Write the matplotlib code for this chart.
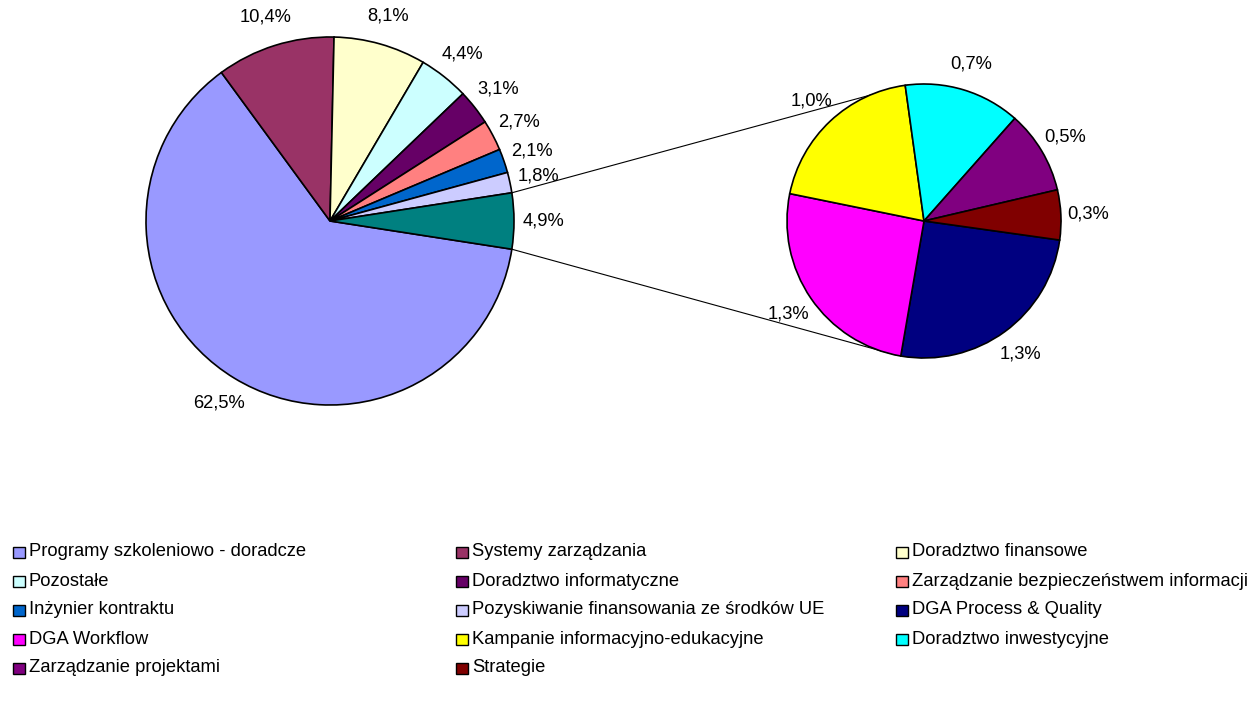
"""plot.py — pie-of-pie chart of service categories (PL labels)."""
import numpy as np
import matplotlib
matplotlib.use("Agg")
import matplotlib.pyplot as plt
from matplotlib.patches import Rectangle

plt.rcParams["font.family"] = ["Liberation Sans", "DejaVu Sans"]

# ---- data ----
main_labels = ["Programy szkoleniowo - doradcze", "Systemy zarządzania",
               "Doradztwo finansowe", "Pozostałe", "Doradztwo informatyczne",
               "Zarządzanie bezpieczeństwem informacji", "Inżynier kontraktu",
               "Pozyskiwanie finansowania ze środków UE"]
main_values = [62.5, 10.4, 8.1, 4.4, 3.1, 2.7, 2.1, 1.8]
main_colors = ["#9999FF", "#993366", "#FFFFCC", "#CCFFFF", "#660066",
               "#FF8080", "#0066CC", "#CCCCFF"]

other_value = 4.9
other_color = "#008080"

sub_labels = ["DGA Process & Quality", "DGA Workflow",
              "Kampanie informacyjno-edukacyjne", "Doradztwo inwestycyjne",
              "Zarządzanie projektami", "Strategie"]
sub_values = [1.3, 1.3, 1.0, 0.7, 0.5, 0.3]
sub_colors = ["#000080", "#FF00FF", "#FFFF00", "#00FFFF", "#800080", "#800000"]

W, H = 1248, 702
FS = 13.2
fig = plt.figure(figsize=(W / 100, H / 100), dpi=100)
ax = fig.add_axes([0, 0, 1, 1])

c1, r1 = (330, 481), 184
c2, r2 = (924, 481), 137
wprops = dict(edgecolor="black", linewidth=1.2)

vals1 = main_values + [other_value]
cols1 = main_colors + [other_color]
start1 = -other_value / 2 * 3.6
w1, _ = ax.pie(vals1, colors=cols1, center=c1, radius=r1, startangle=start1,
               counterclock=False, wedgeprops=wprops, normalize=True)

start2 = -8
w2, _ = ax.pie(sub_values, colors=sub_colors, center=c2, radius=r2,
               startangle=start2, counterclock=False, wedgeprops=wprops,
               normalize=True)


def fmt(v):
    return f"{v:.1f}%".replace(".", ",")


def add_labels(wedges, values, center, radius, dist):
    for w, v in zip(wedges, values):
        mid = np.deg2rad((w.theta1 + w.theta2) / 2)
        x = center[0] + dist * radius * np.cos(mid)
        y = center[1] + dist * radius * np.sin(mid)
        ax.text(x, y, fmt(v), ha="center", va="center", fontsize=FS)


add_labels(w1, vals1, c1, r1, 1.16)
add_labels(w2, sub_values, c2, r2, 1.2)

# connector lines between the split slice and the secondary pie
half = other_value / 2 * 3.6
for a1, a2 in [(half, 97), (-half, -101)]:
    p1 = (c1[0] + r1 * np.cos(np.deg2rad(a1)), c1[1] + r1 * np.sin(np.deg2rad(a1)))
    p2 = (c2[0] + r2 * np.cos(np.deg2rad(a2)), c2[1] + r2 * np.sin(np.deg2rad(a2)))
    ax.plot([p1[0], p2[0]], [p1[1], p2[1]], color="black", lw=0.8, zorder=0)

ax.set_xlim(0, W)
ax.set_ylim(0, H)
ax.set_aspect("equal")
ax.axis("off")

# ---- legend (row-major, 3 columns) ----
leg_labels = main_labels + sub_labels
leg_colors = main_colors + sub_colors
col_x = [12, 455, 895]
for i, (lab, col) in enumerate(zip(leg_labels, leg_colors)):
    row, c = divmod(i, 3)
    y = H - (552 + row * 29)
    x = col_x[c]
    ax.add_patch(Rectangle((x + 1, y - 6), 11.5, 11.5, facecolor=col,
                           edgecolor="black", linewidth=1.0))
    ax.text(x + 17, y, lab, ha="left", va="center", fontsize=FS)

fig.savefig("out.png", dpi=100)
